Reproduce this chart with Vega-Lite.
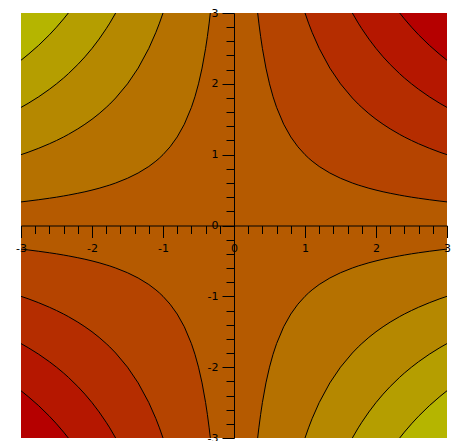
{
 "$schema": "https://vega.github.io/schema/vega-lite/v6.json",
 "width": 426, "height": 425,
 "autosize": {"type": "none"},
 "padding": {"left": 21, "top": 13, "right": 6, "bottom": 3},
 "background": "white",
 "config": {"view": {"stroke": null, "fill": "#B55A00"}},
 "datasets": {
  "q1": [
{"b":6,"x":0.3333,"y":3,"y2":3},{"b":6,"x":0.35,"y":2.857,"y2":3},{"b":6,"x":0.375,"y":2.667,"y2":3},{"b":6,"x":0.4,"y":2.5,"y2":3},{"b":6,"x":0.45,"y":2.222,"y2":3},{"b":6,"x":0.5,"y":2,"y2":3},{"b":6,"x":0.55,"y":1.818,"y2":3},{"b":6,"x":0.6,"y":1.667,"y2":3},{"b":6,"x":0.7,"y":1.429,"y2":3},{"b":6,"x":0.8,"y":1.25,"y2":3},{"b":6,"x":0.9,"y":1.111,"y2":3},{"b":6,"x":1,"y":1,"y2":3},{"b":6,"x":1.05,"y":0.952,"y2":2.857},{"b":6,"x":1.1,"y":0.909,"y2":2.727},{"b":6,"x":1.2,"y":0.833,"y2":2.5},{"b":6,"x":1.35,"y":0.741,"y2":2.222},{"b":6,"x":1.5,"y":0.667,"y2":2},{"b":6,"x":1.6667,"y":0.6,"y2":1.8},{"b":6,"x":1.75,"y":0.571,"y2":1.714},{"b":6,"x":1.8,"y":0.556,"y2":1.667},{"b":6,"x":1.9,"y":0.526,"y2":1.579},{"b":6,"x":2,"y":0.5,"y2":1.5},{"b":6,"x":2.1,"y":0.476,"y2":1.429},{"b":6,"x":2.2,"y":0.455,"y2":1.364},{"b":6,"x":2.3333,"y":0.429,"y2":1.286},{"b":6,"x":2.4,"y":0.417,"y2":1.25},{"b":6,"x":2.5,"y":0.4,"y2":1.2},{"b":6,"x":2.6,"y":0.385,"y2":1.154},{"b":6,"x":2.75,"y":0.364,"y2":1.091},{"b":6,"x":2.9,"y":0.345,"y2":1.034},{"b":6,"x":3,"y":0.333,"y2":1},
{"b":7,"x":1,"y":3,"y2":3},{"b":7,"x":1.05,"y":2.857,"y2":3},{"b":7,"x":1.1,"y":2.727,"y2":3},{"b":7,"x":1.2,"y":2.5,"y2":3},{"b":7,"x":1.35,"y":2.222,"y2":3},{"b":7,"x":1.5,"y":2,"y2":3},{"b":7,"x":1.6667,"y":1.8,"y2":3},{"b":7,"x":1.75,"y":1.714,"y2":2.857},{"b":7,"x":1.8,"y":1.667,"y2":2.778},{"b":7,"x":1.9,"y":1.579,"y2":2.632},{"b":7,"x":2,"y":1.5,"y2":2.5},{"b":7,"x":2.1,"y":1.429,"y2":2.381},{"b":7,"x":2.2,"y":1.364,"y2":2.273},{"b":7,"x":2.3333,"y":1.286,"y2":2.143},{"b":7,"x":2.4,"y":1.25,"y2":2.083},{"b":7,"x":2.5,"y":1.2,"y2":2},{"b":7,"x":2.6,"y":1.154,"y2":1.923},{"b":7,"x":2.75,"y":1.091,"y2":1.818},{"b":7,"x":2.9,"y":1.034,"y2":1.724},{"b":7,"x":3,"y":1,"y2":1.667},
{"b":8,"x":1.6667,"y":3,"y2":3},{"b":8,"x":1.75,"y":2.857,"y2":3},{"b":8,"x":1.8,"y":2.778,"y2":3},{"b":8,"x":1.9,"y":2.632,"y2":3},{"b":8,"x":2,"y":2.5,"y2":3},{"b":8,"x":2.1,"y":2.381,"y2":3},{"b":8,"x":2.2,"y":2.273,"y2":3},{"b":8,"x":2.3333,"y":2.143,"y2":3},{"b":8,"x":2.4,"y":2.083,"y2":2.917},{"b":8,"x":2.5,"y":2,"y2":2.8},{"b":8,"x":2.6,"y":1.923,"y2":2.692},{"b":8,"x":2.75,"y":1.818,"y2":2.545},{"b":8,"x":2.9,"y":1.724,"y2":2.414},{"b":8,"x":3,"y":1.667,"y2":2.333},
{"b":9,"x":2.3333,"y":3,"y2":3},{"b":9,"x":2.4,"y":2.917,"y2":3},{"b":9,"x":2.5,"y":2.8,"y2":3},{"b":9,"x":2.6,"y":2.692,"y2":3},{"b":9,"x":2.75,"y":2.545,"y2":3},{"b":9,"x":2.9,"y":2.414,"y2":3},{"b":9,"x":3,"y":2.333,"y2":3}
  ],
  "q2": [
{"b":4,"x":-0.3333,"y":3,"y2":3},{"b":4,"x":-0.35,"y":2.857,"y2":3},{"b":4,"x":-0.375,"y":2.667,"y2":3},{"b":4,"x":-0.4,"y":2.5,"y2":3},{"b":4,"x":-0.45,"y":2.222,"y2":3},{"b":4,"x":-0.5,"y":2,"y2":3},{"b":4,"x":-0.55,"y":1.818,"y2":3},{"b":4,"x":-0.6,"y":1.667,"y2":3},{"b":4,"x":-0.7,"y":1.429,"y2":3},{"b":4,"x":-0.8,"y":1.25,"y2":3},{"b":4,"x":-0.9,"y":1.111,"y2":3},{"b":4,"x":-1,"y":1,"y2":3},{"b":4,"x":-1.05,"y":0.952,"y2":2.857},{"b":4,"x":-1.1,"y":0.909,"y2":2.727},{"b":4,"x":-1.2,"y":0.833,"y2":2.5},{"b":4,"x":-1.35,"y":0.741,"y2":2.222},{"b":4,"x":-1.5,"y":0.667,"y2":2},{"b":4,"x":-1.6667,"y":0.6,"y2":1.8},{"b":4,"x":-1.75,"y":0.571,"y2":1.714},{"b":4,"x":-1.8,"y":0.556,"y2":1.667},{"b":4,"x":-1.9,"y":0.526,"y2":1.579},{"b":4,"x":-2,"y":0.5,"y2":1.5},{"b":4,"x":-2.1,"y":0.476,"y2":1.429},{"b":4,"x":-2.2,"y":0.455,"y2":1.364},{"b":4,"x":-2.3333,"y":0.429,"y2":1.286},{"b":4,"x":-2.4,"y":0.417,"y2":1.25},{"b":4,"x":-2.5,"y":0.4,"y2":1.2},{"b":4,"x":-2.6,"y":0.385,"y2":1.154},{"b":4,"x":-2.75,"y":0.364,"y2":1.091},{"b":4,"x":-2.9,"y":0.345,"y2":1.034},{"b":4,"x":-3,"y":0.333,"y2":1},
{"b":3,"x":-1,"y":3,"y2":3},{"b":3,"x":-1.05,"y":2.857,"y2":3},{"b":3,"x":-1.1,"y":2.727,"y2":3},{"b":3,"x":-1.2,"y":2.5,"y2":3},{"b":3,"x":-1.35,"y":2.222,"y2":3},{"b":3,"x":-1.5,"y":2,"y2":3},{"b":3,"x":-1.6667,"y":1.8,"y2":3},{"b":3,"x":-1.75,"y":1.714,"y2":2.857},{"b":3,"x":-1.8,"y":1.667,"y2":2.778},{"b":3,"x":-1.9,"y":1.579,"y2":2.632},{"b":3,"x":-2,"y":1.5,"y2":2.5},{"b":3,"x":-2.1,"y":1.429,"y2":2.381},{"b":3,"x":-2.2,"y":1.364,"y2":2.273},{"b":3,"x":-2.3333,"y":1.286,"y2":2.143},{"b":3,"x":-2.4,"y":1.25,"y2":2.083},{"b":3,"x":-2.5,"y":1.2,"y2":2},{"b":3,"x":-2.6,"y":1.154,"y2":1.923},{"b":3,"x":-2.75,"y":1.091,"y2":1.818},{"b":3,"x":-2.9,"y":1.034,"y2":1.724},{"b":3,"x":-3,"y":1,"y2":1.667},
{"b":2,"x":-1.6667,"y":3,"y2":3},{"b":2,"x":-1.75,"y":2.857,"y2":3},{"b":2,"x":-1.8,"y":2.778,"y2":3},{"b":2,"x":-1.9,"y":2.632,"y2":3},{"b":2,"x":-2,"y":2.5,"y2":3},{"b":2,"x":-2.1,"y":2.381,"y2":3},{"b":2,"x":-2.2,"y":2.273,"y2":3},{"b":2,"x":-2.3333,"y":2.143,"y2":3},{"b":2,"x":-2.4,"y":2.083,"y2":2.917},{"b":2,"x":-2.5,"y":2,"y2":2.8},{"b":2,"x":-2.6,"y":1.923,"y2":2.692},{"b":2,"x":-2.75,"y":1.818,"y2":2.545},{"b":2,"x":-2.9,"y":1.724,"y2":2.414},{"b":2,"x":-3,"y":1.667,"y2":2.333},
{"b":1,"x":-2.3333,"y":3,"y2":3},{"b":1,"x":-2.4,"y":2.917,"y2":3},{"b":1,"x":-2.5,"y":2.8,"y2":3},{"b":1,"x":-2.6,"y":2.692,"y2":3},{"b":1,"x":-2.75,"y":2.545,"y2":3},{"b":1,"x":-2.9,"y":2.414,"y2":3},{"b":1,"x":-3,"y":2.333,"y2":3}
  ],
  "q3": [
{"b":6,"x":-0.3333,"y":-3,"y2":-3},{"b":6,"x":-0.35,"y":-2.857,"y2":-3},{"b":6,"x":-0.375,"y":-2.667,"y2":-3},{"b":6,"x":-0.4,"y":-2.5,"y2":-3},{"b":6,"x":-0.45,"y":-2.222,"y2":-3},{"b":6,"x":-0.5,"y":-2,"y2":-3},{"b":6,"x":-0.55,"y":-1.818,"y2":-3},{"b":6,"x":-0.6,"y":-1.667,"y2":-3},{"b":6,"x":-0.7,"y":-1.429,"y2":-3},{"b":6,"x":-0.8,"y":-1.25,"y2":-3},{"b":6,"x":-0.9,"y":-1.111,"y2":-3},{"b":6,"x":-1,"y":-1,"y2":-3},{"b":6,"x":-1.05,"y":-0.952,"y2":-2.857},{"b":6,"x":-1.1,"y":-0.909,"y2":-2.727},{"b":6,"x":-1.2,"y":-0.833,"y2":-2.5},{"b":6,"x":-1.35,"y":-0.741,"y2":-2.222},{"b":6,"x":-1.5,"y":-0.667,"y2":-2},{"b":6,"x":-1.6667,"y":-0.6,"y2":-1.8},{"b":6,"x":-1.75,"y":-0.571,"y2":-1.714},{"b":6,"x":-1.8,"y":-0.556,"y2":-1.667},{"b":6,"x":-1.9,"y":-0.526,"y2":-1.579},{"b":6,"x":-2,"y":-0.5,"y2":-1.5},{"b":6,"x":-2.1,"y":-0.476,"y2":-1.429},{"b":6,"x":-2.2,"y":-0.455,"y2":-1.364},{"b":6,"x":-2.3333,"y":-0.429,"y2":-1.286},{"b":6,"x":-2.4,"y":-0.417,"y2":-1.25},{"b":6,"x":-2.5,"y":-0.4,"y2":-1.2},{"b":6,"x":-2.6,"y":-0.385,"y2":-1.154},{"b":6,"x":-2.75,"y":-0.364,"y2":-1.091},{"b":6,"x":-2.9,"y":-0.345,"y2":-1.034},{"b":6,"x":-3,"y":-0.333,"y2":-1},
{"b":7,"x":-1,"y":-3,"y2":-3},{"b":7,"x":-1.05,"y":-2.857,"y2":-3},{"b":7,"x":-1.1,"y":-2.727,"y2":-3},{"b":7,"x":-1.2,"y":-2.5,"y2":-3},{"b":7,"x":-1.35,"y":-2.222,"y2":-3},{"b":7,"x":-1.5,"y":-2,"y2":-3},{"b":7,"x":-1.6667,"y":-1.8,"y2":-3},{"b":7,"x":-1.75,"y":-1.714,"y2":-2.857},{"b":7,"x":-1.8,"y":-1.667,"y2":-2.778},{"b":7,"x":-1.9,"y":-1.579,"y2":-2.632},{"b":7,"x":-2,"y":-1.5,"y2":-2.5},{"b":7,"x":-2.1,"y":-1.429,"y2":-2.381},{"b":7,"x":-2.2,"y":-1.364,"y2":-2.273},{"b":7,"x":-2.3333,"y":-1.286,"y2":-2.143},{"b":7,"x":-2.4,"y":-1.25,"y2":-2.083},{"b":7,"x":-2.5,"y":-1.2,"y2":-2},{"b":7,"x":-2.6,"y":-1.154,"y2":-1.923},{"b":7,"x":-2.75,"y":-1.091,"y2":-1.818},{"b":7,"x":-2.9,"y":-1.034,"y2":-1.724},{"b":7,"x":-3,"y":-1,"y2":-1.667},
{"b":8,"x":-1.6667,"y":-3,"y2":-3},{"b":8,"x":-1.75,"y":-2.857,"y2":-3},{"b":8,"x":-1.8,"y":-2.778,"y2":-3},{"b":8,"x":-1.9,"y":-2.632,"y2":-3},{"b":8,"x":-2,"y":-2.5,"y2":-3},{"b":8,"x":-2.1,"y":-2.381,"y2":-3},{"b":8,"x":-2.2,"y":-2.273,"y2":-3},{"b":8,"x":-2.3333,"y":-2.143,"y2":-3},{"b":8,"x":-2.4,"y":-2.083,"y2":-2.917},{"b":8,"x":-2.5,"y":-2,"y2":-2.8},{"b":8,"x":-2.6,"y":-1.923,"y2":-2.692},{"b":8,"x":-2.75,"y":-1.818,"y2":-2.545},{"b":8,"x":-2.9,"y":-1.724,"y2":-2.414},{"b":8,"x":-3,"y":-1.667,"y2":-2.333},
{"b":9,"x":-2.3333,"y":-3,"y2":-3},{"b":9,"x":-2.4,"y":-2.917,"y2":-3},{"b":9,"x":-2.5,"y":-2.8,"y2":-3},{"b":9,"x":-2.6,"y":-2.692,"y2":-3},{"b":9,"x":-2.75,"y":-2.545,"y2":-3},{"b":9,"x":-2.9,"y":-2.414,"y2":-3},{"b":9,"x":-3,"y":-2.333,"y2":-3}
  ],
  "q4": [
{"b":4,"x":0.3333,"y":-3,"y2":-3},{"b":4,"x":0.35,"y":-2.857,"y2":-3},{"b":4,"x":0.375,"y":-2.667,"y2":-3},{"b":4,"x":0.4,"y":-2.5,"y2":-3},{"b":4,"x":0.45,"y":-2.222,"y2":-3},{"b":4,"x":0.5,"y":-2,"y2":-3},{"b":4,"x":0.55,"y":-1.818,"y2":-3},{"b":4,"x":0.6,"y":-1.667,"y2":-3},{"b":4,"x":0.7,"y":-1.429,"y2":-3},{"b":4,"x":0.8,"y":-1.25,"y2":-3},{"b":4,"x":0.9,"y":-1.111,"y2":-3},{"b":4,"x":1,"y":-1,"y2":-3},{"b":4,"x":1.05,"y":-0.952,"y2":-2.857},{"b":4,"x":1.1,"y":-0.909,"y2":-2.727},{"b":4,"x":1.2,"y":-0.833,"y2":-2.5},{"b":4,"x":1.35,"y":-0.741,"y2":-2.222},{"b":4,"x":1.5,"y":-0.667,"y2":-2},{"b":4,"x":1.6667,"y":-0.6,"y2":-1.8},{"b":4,"x":1.75,"y":-0.571,"y2":-1.714},{"b":4,"x":1.8,"y":-0.556,"y2":-1.667},{"b":4,"x":1.9,"y":-0.526,"y2":-1.579},{"b":4,"x":2,"y":-0.5,"y2":-1.5},{"b":4,"x":2.1,"y":-0.476,"y2":-1.429},{"b":4,"x":2.2,"y":-0.455,"y2":-1.364},{"b":4,"x":2.3333,"y":-0.429,"y2":-1.286},{"b":4,"x":2.4,"y":-0.417,"y2":-1.25},{"b":4,"x":2.5,"y":-0.4,"y2":-1.2},{"b":4,"x":2.6,"y":-0.385,"y2":-1.154},{"b":4,"x":2.75,"y":-0.364,"y2":-1.091},{"b":4,"x":2.9,"y":-0.345,"y2":-1.034},{"b":4,"x":3,"y":-0.333,"y2":-1},
{"b":3,"x":1,"y":-3,"y2":-3},{"b":3,"x":1.05,"y":-2.857,"y2":-3},{"b":3,"x":1.1,"y":-2.727,"y2":-3},{"b":3,"x":1.2,"y":-2.5,"y2":-3},{"b":3,"x":1.35,"y":-2.222,"y2":-3},{"b":3,"x":1.5,"y":-2,"y2":-3},{"b":3,"x":1.6667,"y":-1.8,"y2":-3},{"b":3,"x":1.75,"y":-1.714,"y2":-2.857},{"b":3,"x":1.8,"y":-1.667,"y2":-2.778},{"b":3,"x":1.9,"y":-1.579,"y2":-2.632},{"b":3,"x":2,"y":-1.5,"y2":-2.5},{"b":3,"x":2.1,"y":-1.429,"y2":-2.381},{"b":3,"x":2.2,"y":-1.364,"y2":-2.273},{"b":3,"x":2.3333,"y":-1.286,"y2":-2.143},{"b":3,"x":2.4,"y":-1.25,"y2":-2.083},{"b":3,"x":2.5,"y":-1.2,"y2":-2},{"b":3,"x":2.6,"y":-1.154,"y2":-1.923},{"b":3,"x":2.75,"y":-1.091,"y2":-1.818},{"b":3,"x":2.9,"y":-1.034,"y2":-1.724},{"b":3,"x":3,"y":-1,"y2":-1.667},
{"b":2,"x":1.6667,"y":-3,"y2":-3},{"b":2,"x":1.75,"y":-2.857,"y2":-3},{"b":2,"x":1.8,"y":-2.778,"y2":-3},{"b":2,"x":1.9,"y":-2.632,"y2":-3},{"b":2,"x":2,"y":-2.5,"y2":-3},{"b":2,"x":2.1,"y":-2.381,"y2":-3},{"b":2,"x":2.2,"y":-2.273,"y2":-3},{"b":2,"x":2.3333,"y":-2.143,"y2":-3},{"b":2,"x":2.4,"y":-2.083,"y2":-2.917},{"b":2,"x":2.5,"y":-2,"y2":-2.8},{"b":2,"x":2.6,"y":-1.923,"y2":-2.692},{"b":2,"x":2.75,"y":-1.818,"y2":-2.545},{"b":2,"x":2.9,"y":-1.724,"y2":-2.414},{"b":2,"x":3,"y":-1.667,"y2":-2.333},
{"b":1,"x":2.3333,"y":-3,"y2":-3},{"b":1,"x":2.4,"y":-2.917,"y2":-3},{"b":1,"x":2.5,"y":-2.8,"y2":-3},{"b":1,"x":2.6,"y":-2.692,"y2":-3},{"b":1,"x":2.75,"y":-2.545,"y2":-3},{"b":1,"x":2.9,"y":-2.414,"y2":-3},{"b":1,"x":3,"y":-2.333,"y2":-3}
  ]
 },
 "data": {"name": "q1"},
 "encoding": {
  "x": {"field": "x", "type": "quantitative",
   "scale": {"domain": [-3, 3], "nice": false, "zero": false},
   "axis": {"orient": "bottom", "offset": -212.5, "title": null, "grid": false, "zindex": 1,
    "values": [-3,-2.8,-2.6,-2.4,-2.2,-2,-1.8,-1.6,-1.4,-1.2,-1,-0.8,-0.6,-0.4,-0.2,0,0.2,0.4,0.6,0.8,1,1.2,1.4,1.6,1.8,2,2.2,2.4,2.6,2.8,3],
    "labelExpr": "abs(datum.value - round(datum.value)) < 0.01 ? '' + round(datum.value) : ''",
    "tickSize": {"condition": {"test": "abs(datum.value - round(datum.value)) < 0.01", "value": 12}, "value": 8},
    "domainColor": "black", "tickColor": "black", "labelColor": "black",
    "labelFont": "DejaVu Sans", "labelFontSize": 11, "labelPadding": 5,
    "labelFlush": false, "labelOverlap": false, "labelBound": false}},
  "y": {"field": "y", "type": "quantitative",
   "scale": {"domain": [-3, 3], "nice": false, "zero": false},
   "axis": {"orient": "left", "offset": -213, "title": null, "grid": false, "zindex": 1,
    "values": [-3,-2.8,-2.6,-2.4,-2.2,-2,-1.8,-1.6,-1.4,-1.2,-1,-0.8,-0.6,-0.4,-0.2,0,0.2,0.4,0.6,0.8,1,1.2,1.4,1.6,1.8,2,2.2,2.4,2.6,2.8,3],
    "labelExpr": "abs(datum.value - round(datum.value)) < 0.01 ? '' + round(datum.value) : ''",
    "tickSize": {"condition": {"test": "abs(datum.value - round(datum.value)) < 0.01", "value": 12}, "value": 8},
    "domainColor": "black", "tickColor": "black", "labelColor": "black",
    "labelFont": "DejaVu Sans", "labelFontSize": 11, "labelPadding": 4,
    "labelFlush": false, "labelOverlap": false, "labelBound": false}}
 },
 "layer": [
  {"data": {"name": "q1"}, "mark": {"type": "area", "clip": true}, "encoding": {"y2": {"field": "y2"}, "color": {"field": "b", "type": "nominal", "legend": null, "scale": {"domain": [1,2,3,4,6,7,8,9], "range": ["#B5B500","#B59E00","#B58800","#B57100","#B54400","#B52D00","#B51700","#B50000"]}}}},
  {"data": {"name": "q2"}, "mark": {"type": "area", "clip": true}, "encoding": {"y2": {"field": "y2"}, "color": {"field": "b", "type": "nominal", "legend": null}}},
  {"data": {"name": "q3"}, "mark": {"type": "area", "clip": true}, "encoding": {"y2": {"field": "y2"}, "color": {"field": "b", "type": "nominal", "legend": null}}},
  {"data": {"name": "q4"}, "mark": {"type": "area", "clip": true}, "encoding": {"y2": {"field": "y2"}, "color": {"field": "b", "type": "nominal", "legend": null}}},
  {"data": {"name": "q1"}, "mark": {"type": "line", "clip": true, "color": "black", "strokeWidth": 1}, "encoding": {"detail": {"field": "b"}}},
  {"data": {"name": "q2"}, "mark": {"type": "line", "clip": true, "color": "black", "strokeWidth": 1}, "encoding": {"detail": {"field": "b"}}},
  {"data": {"name": "q3"}, "mark": {"type": "line", "clip": true, "color": "black", "strokeWidth": 1}, "encoding": {"detail": {"field": "b"}}},
  {"data": {"name": "q4"}, "mark": {"type": "line", "clip": true, "color": "black", "strokeWidth": 1}, "encoding": {"detail": {"field": "b"}}}
 ]
}
